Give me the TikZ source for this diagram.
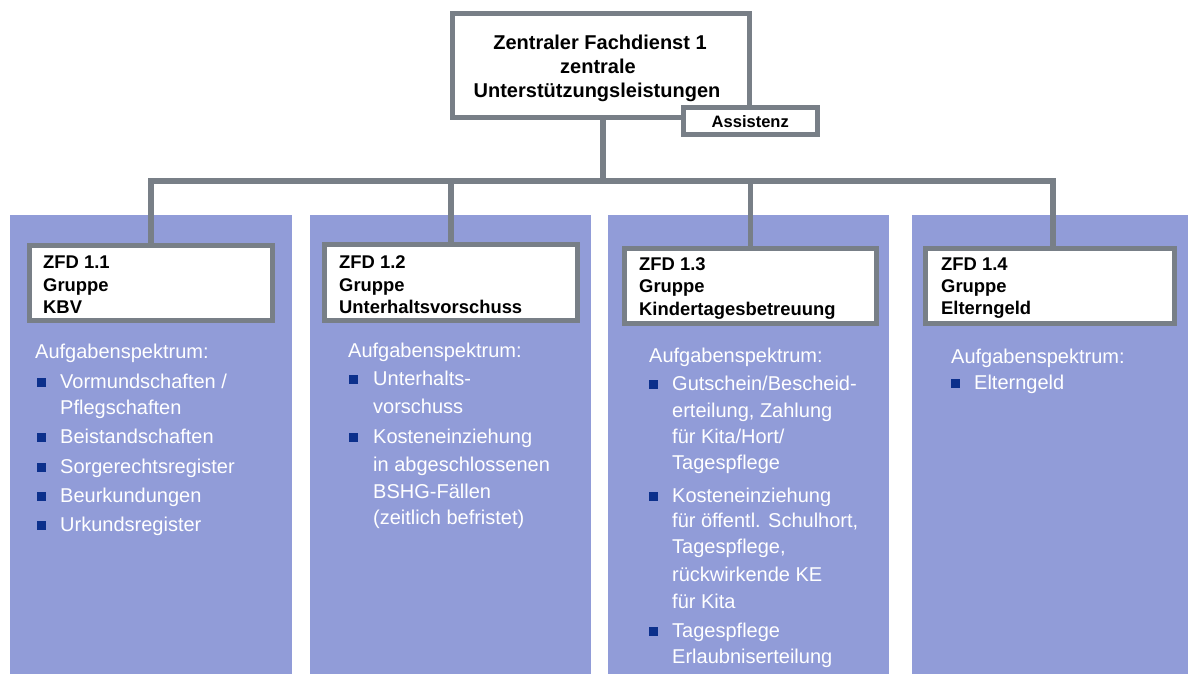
\documentclass[tikz,border=0pt]{standalone}
\usepackage{fontspec}
\setmainfont{Liberation Sans}
\definecolor{colfill}{RGB}{145,156,216}
\definecolor{linegray}{RGB}{120,127,135}
\definecolor{bulletblue}{RGB}{12,48,140}
\pgfdeclarelayer{bg}
\pgfdeclarelayer{lines}
\pgfsetlayers{bg,lines,main}

\begin{document}
\begin{tikzpicture}[x=1pt,y=-1pt,
  conn/.style={draw=linegray,line width=5.5pt},
  frame/.style={draw=linegray,line width=5pt,fill=white,inner sep=0pt,outer sep=0pt},
  column/.style={fill=colfill,inner sep=0pt,outer sep=0pt,anchor=north west,minimum height=459pt},
  headtxt/.style={font=\fontsize{20}{24}\selectfont\bfseries,anchor=base,inner sep=0pt},
  boxtxt/.style={font=\fontsize{18.4}{22}\selectfont\bfseries,anchor=base west,inner sep=0pt},
  coltxt/.style={font=\fontsize{20}{24}\selectfont,text=white,anchor=base west,inner sep=0pt},
  bulletsq/.style={fill=bulletblue,minimum size=8.5pt,inner sep=0pt,outer sep=0pt,anchor=south west}]

\useasboundingbox (0,0) rectangle (1188,674);

% coloured columns behind everything
\begin{pgfonlayer}{bg}
  \fill[white] (0,0) rectangle (1188,674);
  \node[column,minimum width=282pt] (col1) at (10,215) {};
  \node[column,minimum width=281pt] (col2) at (310,215) {};
  \node[column,minimum width=281pt] (col3) at (608,215) {};
  \node[column,minimum width=276pt] (col4) at (912,215) {};
\end{pgfonlayer}

% head of the department
\node[frame,minimum width=296.5pt,minimum height=103.5pt] (head) at (600.75,65.75) {};
\node[headtxt] (head-1) at (600,50) {Zentraler Fachdienst 1};
\node[headtxt] (head-2) at (598,74) {zentrale};
\node[headtxt] (head-3) at (597,98) {Unterstützungsleistungen};
\node[frame,minimum width=134.5pt,minimum height=27.5pt,
      font=\fontsize{16.5}{20}\selectfont\bfseries] (assist) at (750.25,121.25) {Assistenz};

% group boxes
\node[frame,minimum width=243pt,minimum height=75pt] (box1) at (151,283) {};
\node[frame,minimum width=253pt,minimum height=76pt] (box2) at (451,282.5) {};
\node[frame,minimum width=252pt,minimum height=75pt] (box3) at (750.5,286) {};
\node[frame,minimum width=249pt,minimum height=75pt] (box4) at (1050,286) {};

\foreach \y/\t [count=\i] in {268/ZFD 1.1, 291/Gruppe, 313/KBV}
  \node[boxtxt] (box1-\i) at (43,\y) {\t};
\foreach \y/\t [count=\i] in {268/ZFD 1.2, 291/Gruppe, 313/Unterhaltsvorschuss}
  \node[boxtxt] (box2-\i) at (339,\y) {\t};
\foreach \y/\t [count=\i] in {270/ZFD 1.3, 292/Gruppe, 315/Kindertagesbetreuung}
  \node[boxtxt] (box3-\i) at (639,\y) {\t};
\foreach \y/\t [count=\i] in {270/ZFD 1.4, 292/Gruppe, 314/Elterngeld}
  \node[boxtxt] (box4-\i) at (941,\y) {\t};

% connectors
\coordinate (hub) at (603,181);
\begin{pgfonlayer}{lines}
  \draw[conn] (head.south -| hub) -- (hub);
  \draw[conn] (box1.north) |- (hub) -| ([xshift=3pt]box4.north);
  \draw[conn] (box2.north) -- (box2.north |- hub);
  \draw[conn] (box3.north) -- (box3.north |- hub);
\end{pgfonlayer}

% task lists
\node[coltxt] (t1) at (35,358) {Aufgabenspektrum:};
\foreach \y in {388,443,473,502,531}
  \node[bulletsq] (b1-\y) at (37,\y-1.5) {};
\foreach \y/\t [count=\i] in {388/{Vormundschaften /}, 414/Pflegschaften, 443/Beistandschaften,
    473/Sorgerechtsregister, 502/Beurkundungen, 531/Urkundsregister}
  \node[coltxt] (l1-\i) at (60,\y) {\t};

\node[coltxt] (t2) at (348,357) {Aufgabenspektrum:};
\foreach \y in {385,443}
  \node[bulletsq] (b2-\y) at (349,\y-1.5) {};
\foreach \y/\t [count=\i] in {385/Unterhalts-, 413/vorschuss, 443/Kosteneinziehung,
    471/in abgeschlossenen, 498/BSHG-Fällen, 524/(zeitlich befristet)}
  \node[coltxt] (l2-\i) at (373,\y) {\t};

\node[coltxt] (t3) at (649,362) {Aufgabenspektrum:};
\foreach \y in {390,502,637}
  \node[bulletsq] (b3-\y) at (649,\y-1.5) {};
\foreach \y/\t [count=\i] in {390/{Gutschein/Bescheid-}, {417/erteilung, Zahlung}, 443/{für Kita/Hort/},
    469/Tagespflege, 502/Kosteneinziehung, {527/für öffentl. Schulhort,}, {553/Tagespflege,},
    581/rückwirkende KE, 608/für Kita, 637/Tagespflege, 663/Erlaubniserteilung}
  \node[coltxt] (l3-\i) at (672,\y) {\t};

\node[coltxt] (t4) at (951,363) {Aufgabenspektrum:};
\node[bulletsq] (b4-1) at (951,389-1.5) {};
\node[coltxt] (l4-1) at (974,389) {Elterngeld};

\end{tikzpicture}
\end{document}
